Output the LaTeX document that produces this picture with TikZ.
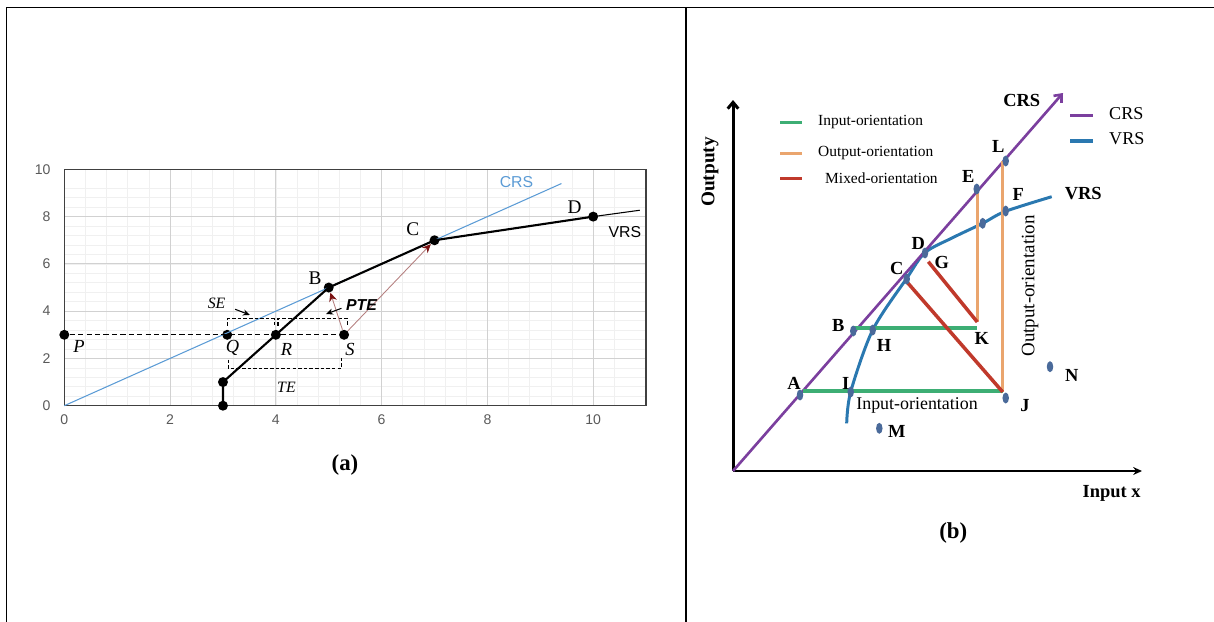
\documentclass[tikz,border=0pt]{standalone}
\usepackage{fontspec}
\setmainfont{Liberation Serif}
\setsansfont{Liberation Sans}
\usetikzlibrary{arrows.meta,shapes.geometric,calc}
\definecolor{crsblue}{HTML}{5B9BD5}
\definecolor{ticktext}{HTML}{595959}
\definecolor{ptearrow}{HTML}{B58080}
\definecolor{ptehead}{HTML}{7A1010}
\definecolor{crsline}{HTML}{7B3F9E}
\definecolor{vrsline}{HTML}{2A78B0}
\definecolor{inorient}{HTML}{3DAE74}
\definecolor{outorient}{HTML}{EAA56E}
\definecolor{mixorient}{HTML}{C0392B}
\definecolor{dmu}{HTML}{4A6A9A}

\begin{document}
\begin{tikzpicture}[x=0.02cm,y=-0.02cm,
  dot/.style={circle,fill=black,inner sep=0pt,minimum size=0.2cm},
  dmupt/.style={ellipse,fill=dmu,inner sep=0pt,minimum width=0.13cm,minimum height=0.22cm},
  tick/.style={font=\sffamily\fontsize{8}{9}\selectfont,text=ticktext,inner sep=1pt},
  minorgrid/.style={black!6,line width=0.4pt},
  majorgrid/.style={black!18,line width=0.6pt},
  ptlbl/.style={font=\fontsize{11}{12}\selectfont},
  itlbl/.style={font=\fontsize{10.5}{12}\selectfont\itshape},
  lbl/.style={font=\fontsize{10.5}{12}\selectfont\bfseries},
  legtxt/.style={font=\fontsize{8.8}{10}\selectfont,anchor=west},
  caption/.style={font=\fontsize{13}{15}\selectfont\bfseries}]
\useasboundingbox (0,0) rectangle (1214,622);
\draw[line width=1.1pt] (6.5,622) -- (6.5,7.5) -- (1214,7.5);
\draw[line width=0.8pt] (686,7.5) -- (686,622);

\begin{scope}[shift={(64.3,405.7)},x=1.058cm,y=0.4728cm]
  \foreach \gx in {0.4,0.8,...,10.8} \draw[minorgrid] (\gx,0) -- (\gx,10);
  \foreach \gy in {0.4,0.8,...,9.6} \draw[minorgrid] (0,\gy) -- (11,\gy);
  \foreach \gx in {2,4,...,10} \draw[majorgrid] (\gx,0) -- (\gx,10);
  \foreach \gy in {2,4,...,8} \draw[majorgrid] (0,\gy) -- (11,\gy);
  \draw[black!75,line width=0.8pt] (0,0) rectangle (11,10);
  \foreach \v in {0,2,...,10} {
    \node[tick,anchor=east] (ylab\v) at (-0.22,\v) {\v};
    \node[tick,anchor=north] (xlab\v) at (\v,-0.3) {\v};
  }
  \coordinate (O) at (0,0);
  \coordinate (crsend) at (9.4,9.4);
  \coordinate (vrsend) at (10.88,8.27);
  \node[dot] (v0) at (3,0) {};
  \node[dot] (v1) at (3,1) {};
  \node[dot] (P) at (0,3) {};
  \node[dot] (Q) at (3.08,3) {};
  \node[dot] (R) at (4,3) {};
  \node[dot] (S) at (5.29,3) {};
  \node[dot] (B) at (5,5) {};
  \node[dot] (C) at (7,7) {};
  \node[dot] (D) at (10,8) {};
  \draw[crsblue,line width=0.6pt] (O) -- (crsend);
  \draw[line width=1.2pt] (v0.center) -- (v1.center) -- (B.center) -- (C.center) -- (D.center);
  \draw[line width=0.6pt] (D.center) -- (vrsend);
  \draw[dashed,line width=0.6pt,dash pattern=on 3pt off 1.8pt] (P) -- (S);
  \draw[dashed,line width=0.6pt,dash pattern=on 2pt off 1.2pt]
    (3.09,3.38) -- (3.09,3.67) -- (3.97,3.67) -- (3.97,3.38);
  \draw[dashed,line width=0.6pt,dash pattern=on 2pt off 1.2pt]
    (4.04,3.38) -- (4.04,3.67) -- (5.36,3.67) -- (5.36,3.38);
  \draw[dashed,line width=0.6pt,dash pattern=on 2pt off 1.2pt]
    (3.1,1.95) -- (3.1,1.58) -- (5.24,1.58) -- (5.24,2.0);
  \draw[ptearrow,line width=0.5pt,-{Stealth[ptehead,length=5pt,width=4.5pt]}] (S) -- (B);
  \draw[ptearrow,line width=0.5pt,-{Stealth[ptehead,length=5pt,width=4.5pt]}] (S) -- (C);
  \coordinate (se0) at (3.23,4.08);
  \coordinate (se1) at (3.51,3.84);
  \coordinate (pte0) at (5.24,4.12);
  \coordinate (pte1) at (4.95,3.88);
  \draw[line width=0.6pt,-{Stealth[length=4pt,width=3.5pt]}] (se0) -- (se1);
  \draw[line width=0.6pt,-{Stealth[length=4pt,width=3.5pt]}] (pte0) -- (pte1);
  \node[ptlbl] (Blbl) at (4.74,5.39) {B};
  \node[ptlbl] (Clbl) at (6.59,7.46) {C};
  \node[ptlbl] (Dlbl) at (9.65,8.39) {D};
  \node[font=\sffamily\fontsize{9}{10}\selectfont] (vrslbl) at (10.6,7.36) {VRS};
  \node[font=\sffamily\fontsize{9}{10}\selectfont,text=crsblue] (crslbl) at (8.55,9.45) {CRS};
  \node[itlbl] (Plbl) at (0.28,2.5) {P};
  \node[itlbl] (Qlbl) at (3.18,2.43) {Q};
  \node[itlbl] (Rlbl) at (4.2,2.4) {R};
  \node[itlbl] (Slbl) at (5.4,2.36) {S};
  \node[font=\fontsize{9}{10}\selectfont\itshape] (selbl) at (2.88,4.33) {SE};
  \node[font=\fontsize{9}{10}\selectfont\itshape] (telbl) at (4.2,0.78) {TE};
  \node[font=\sffamily\fontsize{9}{10}\selectfont\bfseries\itshape] (ptelbl) at (5.62,4.26) {PTE};
\end{scope}
\node[caption] (capa) at (345,465) {(a)};

\coordinate (O2) at (733,471);
\coordinate (xend) at (1142,471);
\coordinate (yend) at (733,100);
\coordinate (crstip) at (1063,93);
\draw[line width=1.7pt,-{Stealth[length=5pt,width=4.5pt]}] (O2) -- (xend);
\draw[line width=1.7pt,-{Straight Barb[length=3.6pt,width=6pt]}] (O2) -- (yend);
\draw[vrsline,line width=1.7pt] plot[smooth] coordinates {(846.7,423.3) (850.7,391.7) (872.7,330) (906.7,278.3) (925,252.7) (952,238) (982.7,223.3) (1005,211.5) (1051.7,196.7)};
\draw[crsline,line width=1.5pt,-{Straight Barb[length=3.6pt,width=6pt]}] (O2) -- (crstip);
\coordinate (a1) at (803,391);
\coordinate (j1) at (1002.7,391);
\coordinate (b1) at (853,328);
\coordinate (k1) at (977.3,328);
\coordinate (e1) at (977.3,190);
\coordinate (k2) at (977.3,322);
\coordinate (l1) at (1002.7,161);
\coordinate (j2) at (1002.7,392);
\coordinate (g1) at (928.3,261.7);
\coordinate (c1) at (906.7,281.7);
\draw[outorient,line width=1.7pt] (e1) -- (k2);
\draw[outorient,line width=1.7pt] (l1) -- (j2);
\draw[inorient,line width=2pt] (a1) -- (j1);
\draw[inorient,line width=2pt] (b1) -- (k1);
\draw[mixorient,line width=2pt] (g1) -- (k2);
\draw[mixorient,line width=2pt] (c1) -- (j2);
\node[dmupt] (A) at (800,395) {};
\node[dmupt] (Bb) at (853.3,331) {};
\node[dmupt] (Cb) at (906.7,279) {};
\node[dmupt] (Db) at (925,253) {};
\node[dmupt] (E) at (976.7,189) {};
\node[dmupt] (L) at (1005.7,161) {};
\node[dmupt] (F) at (1005.7,211) {};
\node[dmupt] (Ef) at (982.7,223.3) {};
\node[dmupt] (H) at (872.7,330) {};
\node[dmupt] (I) at (850.7,392) {};
\node[dmupt] (J) at (1005.7,398) {};
\node[dmupt] (M) at (879.3,428.3) {};
\node[dmupt] (N) at (1050,366.7) {};
\node[lbl] (crsb) at (1021.7,100.7) {CRS};
\node[lbl] (vrsb) at (1083.3,194) {VRS};
\node[lbl] (Llbl) at (998.3,146) {L};
\node[lbl] (Elbl) at (968.3,176.7) {E};
\node[lbl] (Flbl) at (1018.3,194) {F};
\node[lbl] (Dblbl) at (918.3,243.3) {D};
\node[lbl] (Glbl) at (941.7,262.7) {G};
\node[lbl] (Cblbl) at (896.7,268.3) {C};
\node[lbl] (Bblbl) at (838.3,325.7) {B};
\node[lbl] (Hlbl) at (884,345) {H};
\node[lbl] (Albl) at (794,383.3) {A};
\node[lbl] (Ilbl) at (845.7,383.3) {I};
\node[lbl] (Klbl) at (981.7,338.3) {K};
\node[lbl] (Jlbl) at (1025,405.7) {J};
\node[lbl] (Nlbl) at (1071.7,375) {N};
\node[lbl] (Mlbl) at (896.7,431.7) {M};
\node[font=\fontsize{10.2}{12}\selectfont,anchor=west,inner sep=0pt] (inlbl) at (856,405.7) {Input-orientation};
\node[font=\fontsize{10.8}{12}\selectfont,rotate=90] (outlbl) at (1030,286) {Output-orientation};
\node[font=\fontsize{11}{12}\selectfont\bfseries,rotate=90] (ylbl) at (710,172) {Outputy};
\node[font=\fontsize{10.5}{12}\selectfont\bfseries] (xlbl) at (1111.7,493.3) {Input x};
\coordinate (lg1a) at (780,122.3);
\coordinate (lg1b) at (802,122.3);
\coordinate (lg2a) at (780,153.3);
\coordinate (lg2b) at (802,153.3);
\coordinate (lg3a) at (780,178.3);
\coordinate (lg3b) at (802,178.3);
\draw[inorient,line width=2pt] (lg1a) -- (lg1b);
\draw[outorient,line width=2pt] (lg2a) -- (lg2b);
\draw[mixorient,line width=2pt] (lg3a) -- (lg3b);
\node[legtxt] (lgt1) at (812,122.3) {Input-orientation};
\node[legtxt] (lgt2) at (812,153.3) {Output-orientation};
\node[legtxt] (lgt3) at (819,178.3) {Mixed-orientation};
\coordinate (lg4a) at (1070,115.7);
\coordinate (lg4b) at (1093,115.7);
\coordinate (lg5a) at (1070,141);
\coordinate (lg5b) at (1093,141);
\draw[crsline,line width=2pt] (lg4a) -- (lg4b);
\draw[vrsline,line width=2pt] (lg5a) -- (lg5b);
\node[font=\fontsize{10.3}{12}\selectfont,anchor=west] (lgt4) at (1103,113.5) {CRS};
\node[font=\fontsize{10.3}{12}\selectfont,anchor=west] (lgt5) at (1103,138.5) {VRS};
\node[caption] (capb) at (953.3,533.3) {(b)};
\end{tikzpicture}
\end{document}
